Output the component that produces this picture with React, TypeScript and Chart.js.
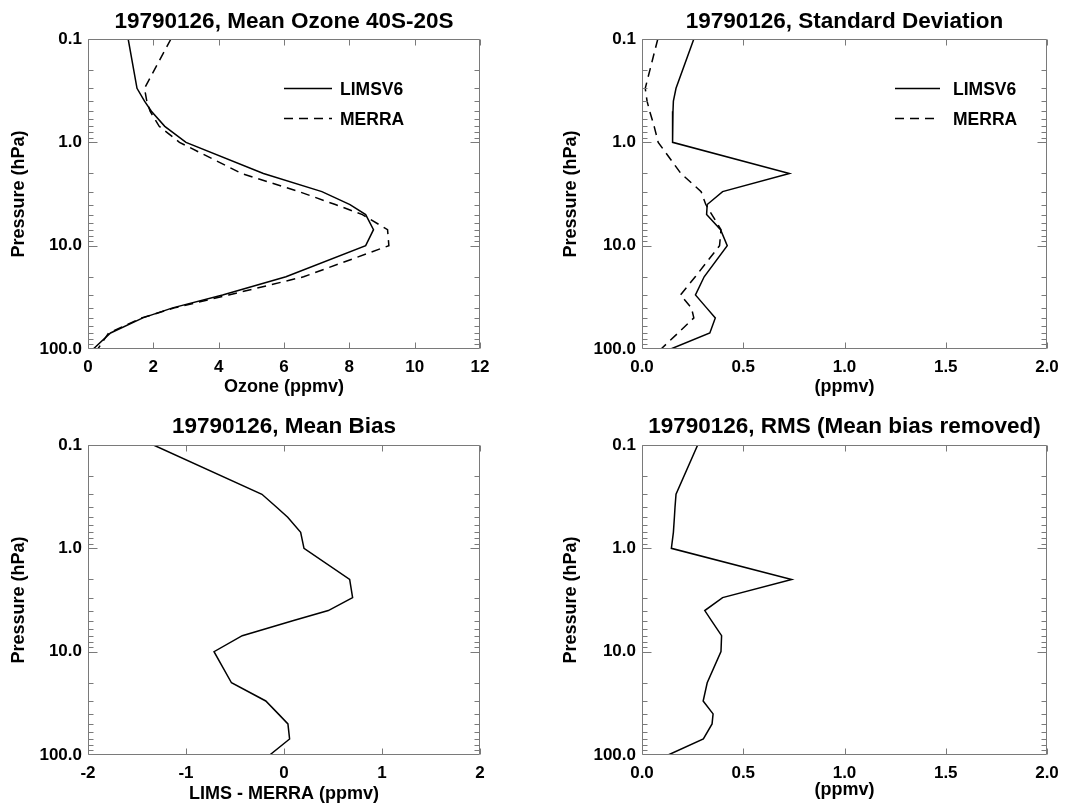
import React, { useEffect, useRef } from 'react';
import { Chart, registerables } from 'chart.js';

Chart.register(...registerables);

// ---------------- data ----------------
const pressureLevels = [0.1, 0.3, 0.4, 0.5, 0.7, 1, 2, 3, 4, 5, 7, 10, 20, 30, 40, 50, 70, 100];

const limsMeanOzone = [1.23, 1.5, 1.73, 1.94, 2.35, 3.0, 5.37, 7.16, 8.02, 8.5, 8.74, 8.5, 6.06, 4.12, 2.59, 1.68, 0.69, 0.16];
const merraMeanOzone = [2.54, 1.73, 1.8, 1.9, 2.18, 2.8, 4.7, 6.46, 7.57, 8.4, 9.17, 9.21, 6.6, 4.31, 2.65, 1.64, 0.63, 0.3];

const limsStdDev = [0.256, 0.168, 0.155, 0.153, 0.152, 0.15, 0.728, 0.398, 0.322, 0.319, 0.388, 0.421, 0.307, 0.264, 0.319, 0.362, 0.335, 0.142];
const merraStdDev = [0.078, 0.016, 0.025, 0.038, 0.06, 0.08, 0.192, 0.292, 0.315, 0.345, 0.39, 0.383, 0.263, 0.19, 0.244, 0.256, 0.178, 0.094];

const meanBias = [-1.332, -0.225, -0.075, 0.038, 0.17, 0.204, 0.67, 0.7, 0.452, 0.098, -0.426, -0.714, -0.536, -0.186, -0.058, 0.04, 0.057, -0.146];

const rmsBiasRemoved = [0.275, 0.168, 0.163, 0.16, 0.155, 0.145, 0.739, 0.398, 0.31, 0.343, 0.393, 0.39, 0.322, 0.302, 0.351, 0.346, 0.303, 0.129];

const pressureTickValues = [0.1, 1, 10, 100];
const ozoneAxis = { min: 0, max: 12, step: 2, decimals: 0 };
const ppmvAxis = { min: 0, max: 2, step: 0.5, decimals: 1 };
const biasAxis = { min: -2, max: 2, step: 1, decimals: 0 };

const seriesNames = ['LIMSV6', 'MERRA'];
const panelTitles = [
  '19790126, Mean Ozone 40S-20S',
  '19790126, Standard Deviation',
  '19790126, Mean Bias',
  '19790126, RMS (Mean bias removed)',
];
const xAxisTitles = ['Ozone (ppmv)', '(ppmv)', 'LIMS - MERRA (ppmv)', '(ppmv)'];
const yAxisTitle = 'Pressure (hPa)';

// ---------------- styling / layout ----------------
const FONT = "'Liberation Sans', Arial, Helvetica, sans-serif";
const FRAME = '#7a7a7a';
const DASH = [9, 6];
const LINE_W = 1.5;

type Series = { label: string; values: number[]; dash: number[] };
type PanelSpec = {
  canvas: { x: number; y: number; w: number; h: number };
  area: { l: number; t: number; r: number; b: number };
  titleCY: number;
  xTitleCY: number;
  yTitleCX: number;
  title: string;
  xTitle: string;
  axis: { min: number; max: number; step: number; decimals: number };
  series: Series[];
  legend?: { x0: number; x1: number; tx: number; rows: number[] };
};

const panels: PanelSpec[] = [
  {
    canvas: { x: 0, y: 0, w: 541, h: 404 },
    area: { l: 88, t: 39, r: 480, b: 349 },
    titleCY: 22, xTitleCY: 387, yTitleCX: 19,
    title: panelTitles[0], xTitle: xAxisTitles[0], axis: ozoneAxis,
    series: [
      { label: seriesNames[0], values: limsMeanOzone, dash: [] },
      { label: seriesNames[1], values: merraMeanOzone, dash: DASH },
    ],
    legend: { x0: 284, x1: 332, tx: 340, rows: [88, 118] },
  },
  {
    canvas: { x: 541, y: 0, w: 542, h: 404 },
    area: { l: 642, t: 39, r: 1047, b: 349 },
    titleCY: 22, xTitleCY: 387, yTitleCX: 571,
    title: panelTitles[1], xTitle: xAxisTitles[1], axis: ppmvAxis,
    series: [
      { label: seriesNames[0], values: limsStdDev, dash: [] },
      { label: seriesNames[1], values: merraStdDev, dash: DASH },
    ],
    legend: { x0: 895, x1: 940, tx: 953, rows: [88, 118] },
  },
  {
    canvas: { x: 0, y: 404, w: 541, h: 405 },
    area: { l: 88, t: 445, r: 480, b: 755 },
    titleCY: 427, xTitleCY: 794, yTitleCX: 19,
    title: panelTitles[2], xTitle: xAxisTitles[2], axis: biasAxis,
    series: [{ label: 'LIMS - MERRA', values: meanBias, dash: [] }],
  },
  {
    canvas: { x: 541, y: 404, w: 542, h: 405 },
    area: { l: 642, t: 445, r: 1047, b: 755 },
    titleCY: 427, xTitleCY: 790, yTitleCX: 571,
    title: panelTitles[3], xTitle: xAxisTitles[3], axis: ppmvAxis,
    series: [{ label: 'RMS', values: rmsBiasRemoved, dash: [] }],
  },
];

// inward ticks, frame and in-plot legend
const frameTicksPlugin = {
  id: 'frameTicks',
  afterDatasetsDraw(chart: any, _args: any, opts: any) {
    const { ctx, chartArea: a, scales } = chart;
    const xs = scales.x;
    const ys = scales.y;
    ctx.save();
    ctx.strokeStyle = FRAME;
    ctx.lineWidth = 1;
    ctx.beginPath();
    const L = Math.round(a.left) + 0.5;
    const R = Math.round(a.right) - 0.5;
    const T = Math.round(a.top) + 0.5;
    const B = Math.round(a.bottom) - 0.5;
    ctx.moveTo(L, T); ctx.lineTo(R, T); ctx.lineTo(R, B); ctx.lineTo(L, B); ctx.closePath();
    xs.ticks.forEach((t: any) => {
      const px = Math.round(xs.getPixelForValue(t.value)) + 0.5;
      ctx.moveTo(px, B); ctx.lineTo(px, B - 6);
      ctx.moveTo(px, T); ctx.lineTo(px, T + 6);
    });
    [0.1, 1, 10].forEach((d) => {
      for (let m = 1; m <= 9; m++) {
        const v = d * m;
        const py = Math.round(ys.getPixelForValue(v)) + 0.5;
        const len = m === 1 ? 9 : 5;
        ctx.moveTo(L, py); ctx.lineTo(L + len, py);
        ctx.moveTo(R, py); ctx.lineTo(R - len, py);
      }
    });
    ctx.stroke();

    const lg = opts && opts.legend;
    if (lg) {
      const ox = chart.canvas.__ox || 0;
      const oy = chart.canvas.__oy || 0;
      chart.data.datasets.forEach((ds: any, i: number) => {
        const y = lg.rows[i] - oy + 0.5;
        ctx.strokeStyle = '#000';
        ctx.lineWidth = LINE_W;
        ctx.setLineDash(ds.borderDash || []);
        ctx.beginPath();
        ctx.moveTo(lg.x0 - ox, y);
        ctx.lineTo(lg.x1 - ox, y);
        ctx.stroke();
        ctx.setLineDash([]);
        ctx.fillStyle = '#000';
        ctx.font = `bold 17.5px ${FONT}`;
        ctx.textAlign = 'left';
        ctx.textBaseline = 'middle';
        ctx.fillText(ds.label, lg.tx - ox, y + 1.5);
      });
    }
    ctx.restore();
  },
};

function buildConfig(p: PanelSpec): any {
  const c = p.canvas;
  const titleLH = 22.5 * 1.2;
  const titlePadTop = p.titleCY - c.y - titleLH / 2;
  const titlePadBottom = p.area.t - c.y - titlePadTop - titleLH;
  const xScaleHeight = c.y + c.h - p.area.b;
  const yScaleWidth = p.area.l - c.x;
  const rightPad = c.x + c.w - p.area.r;
  const axisTitleLH = 18 * 1.2;
  const xTitlePadBottom = c.y + c.h - p.xTitleCY - axisTitleLH / 2;
  const yTitlePadTop = p.yTitleCX - c.x - axisTitleLH / 2;
  const dec = p.axis.decimals;

  return {
    type: 'scatter',
    data: {
      datasets: p.series.map((s) => ({
        label: s.label,
        data: pressureLevels.map((pr, i) => ({ x: s.values[i], y: pr })),
        showLine: true,
        borderColor: '#000',
        backgroundColor: '#000',
        borderWidth: LINE_W,
        borderDash: s.dash,
        pointRadius: 0,
        pointHoverRadius: 0,
        fill: false,
        tension: 0,
      })),
    },
    options: {
      animation: false,
      responsive: false,
      maintainAspectRatio: false,
      events: [],
      layout: { padding: { left: 0, right: rightPad, top: 0, bottom: 0 } },
      plugins: {
        legend: { display: false },
        tooltip: { enabled: false },
        title: {
          display: true,
          text: p.title,
          fullSize: false,
          color: '#000',
          font: { family: FONT, size: 22.5, weight: 'bold', lineHeight: 1.2 },
          padding: { top: titlePadTop, bottom: titlePadBottom },
        },
        frameTicks: { legend: p.legend || null },
      },
      scales: {
        x: {
          type: 'linear',
          position: 'bottom',
          min: p.axis.min,
          max: p.axis.max,
          grid: { display: false, drawTicks: false },
          border: { display: false },
          ticks: {
            stepSize: p.axis.step,
            autoSkip: false,
            maxRotation: 0,
            padding: 7.8,
            color: '#000',
            font: { family: FONT, size: 17, weight: 'bold', lineHeight: 1.2 },
            callback: (v: any) => Number(v).toFixed(dec),
          },
          title: {
            display: true,
            text: p.xTitle,
            color: '#000',
            font: { family: FONT, size: 18, weight: 'bold', lineHeight: 1.2 },
            padding: { top: 0, bottom: xTitlePadBottom },
          },
          afterFit: (scale: any) => { scale.height = xScaleHeight; },
        },
        y: {
          type: 'logarithmic',
          position: 'left',
          reverse: true,
          min: 0.1,
          max: 100,
          grid: { display: false, drawTicks: false },
          border: { display: false },
          afterBuildTicks: (scale: any) => {
            scale.ticks = pressureTickValues.map((v) => ({ value: v }));
          },
          ticks: {
            autoSkip: false,
            padding: 6,
            color: '#000',
            font: { family: FONT, size: 17, weight: 'bold', lineHeight: 1.2 },
            callback: (v: any) => Number(v).toFixed(1),
          },
          title: {
            display: true,
            text: yAxisTitle,
            color: '#000',
            font: { family: FONT, size: 18, weight: 'bold', lineHeight: 1.2 },
            padding: { top: yTitlePadTop, bottom: 0 },
          },
          afterFit: (scale: any) => { scale.width = yScaleWidth; },
        },
      },
    },
    plugins: [frameTicksPlugin],
  };
}

function Panel({ spec }: { spec: PanelSpec }) {
  const ref = useRef<HTMLCanvasElement | null>(null);
  useEffect(() => {
    const cv = ref.current as any;
    if (!cv) return;
    cv.__ox = spec.canvas.x;
    cv.__oy = spec.canvas.y;
    const chart = new Chart(cv, buildConfig(spec));
    return () => chart.destroy();
  }, [spec]);
  const c = spec.canvas;
  return (
    <canvas
      ref={ref}
      width={c.w}
      height={c.h}
      style={{ position: 'absolute', left: c.x, top: c.y, width: c.w, height: c.h, display: 'block' }}
    />
  );
}

export default function App() {
  return (
    <div style={{ position: 'absolute', left: 0, top: 0, width: 1083, height: 809, background: '#ffffff', overflow: 'hidden' }}>
      {panels.map((p, i) => (
        <Panel key={i} spec={p} />
      ))}
    </div>
  );
}
